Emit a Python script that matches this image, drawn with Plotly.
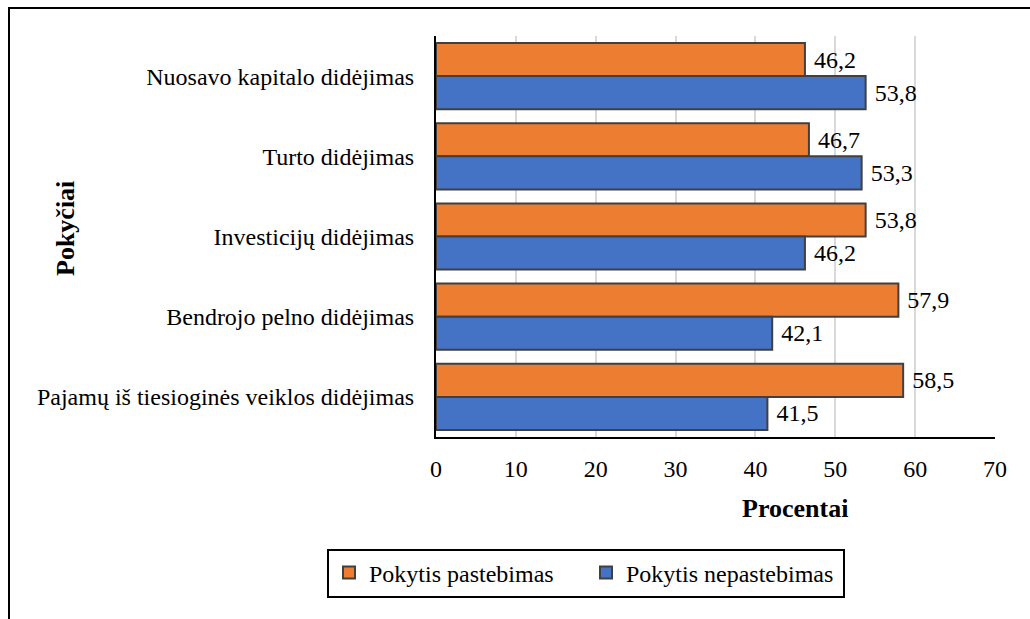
import plotly.graph_objects as go

categories = [
    "Nuosavo kapitalo didėjimas",
    "Turto didėjimas",
    "Investicijų didėjimas",
    "Bendrojo pelno didėjimas",
    "Pajamų iš tiesioginės veiklos didėjimas",
]
pastebimas = [46.2, 46.7, 53.8, 57.9, 58.5]
nepastebimas = [53.8, 53.3, 46.2, 42.1, 41.5]
x_ticks = [0, 10, 20, 30, 40, 50, 60, 70]

FONT = "Liberation Serif"
W, H = 1030, 619
L, R, T, B = 436, 995, 36, 437  # plot area in pixels


def px_x(p):
    return (p - L) / (R - L)


def px_y(p):
    return (B - p) / (B - T)


def fmt(vals):
    return ["\u00a0" + f"{v:.1f}".replace(".", ",") for v in vals]


fig = go.Figure()
fig.add_trace(go.Bar(
    y=categories, x=pastebimas, orientation="h", name="Pokytis pastebimas",
    marker=dict(color="#ED7D31", line=dict(color="#404040", width=2)),
    text=fmt(pastebimas), textposition="outside", cliponaxis=False,
    textfont=dict(size=24, color="black", family=FONT),
))
fig.add_trace(go.Bar(
    y=categories, x=nepastebimas, orientation="h", name="Pokytis nepastebimas",
    marker=dict(color="#4472C4", line=dict(color="#404040", width=2)),
    text=fmt(nepastebimas), textposition="outside", cliponaxis=False,
    textfont=dict(size=24, color="black", family=FONT),
))

fig.update_layout(
    width=W, height=H,
    margin=dict(l=L, r=W - R, t=T, b=H - B),
    barmode="group", bargap=0.175, bargroupgap=0,
    paper_bgcolor="white", plot_bgcolor="white",
    font=dict(family=FONT, size=24, color="black"),
    showlegend=True,
    legend=dict(
        orientation="h", x=px_x(586), y=px_y(573),
        xanchor="center", yanchor="middle",
        bordercolor="black", borderwidth=2, bgcolor="white",
        font=dict(size=24, family=FONT), entrywidth=212, itemwidth=30,
        traceorder="normal",
    ),
    xaxis=dict(
        range=[0, 70], tickvals=x_ticks, showgrid=True, gridcolor="#D9D9D9",
        gridwidth=1.5, showline=True, linecolor="black", linewidth=2,
        ticks="outside", ticklen=9, tickcolor="rgba(0,0,0,0)", zeroline=False,
        tickfont=dict(size=24, family=FONT),
    ),
    yaxis=dict(
        autorange="reversed", showline=True, linecolor="black", linewidth=2,
        ticks="outside", ticklen=15, tickcolor="rgba(0,0,0,0)",
        tickfont=dict(size=24, family=FONT),
    ),
    annotations=[
        dict(text="<b>Procentai</b>", xref="paper", yref="paper",
             x=px_x(795), y=px_y(508), xanchor="center", yanchor="middle",
             showarrow=False, font=dict(size=26, family=FONT)),
        dict(text="<b>Pokyčiai</b>", xref="paper", yref="paper",
             x=px_x(65), y=px_y(229), xanchor="center", yanchor="middle",
             showarrow=False, textangle=-90,
             font=dict(size=26, family=FONT)),
    ],
    shapes=[
        dict(type="rect", xref="paper", yref="paper",
             x0=px_x(9), x1=px_x(1060), y0=px_y(650), y1=px_y(8),
             line=dict(color="black", width=2), layer="above"),
    ],
)

fig.write_html("out.html", config={"displayModeBar": False},
               post_script="document.body.style.margin='0';")
